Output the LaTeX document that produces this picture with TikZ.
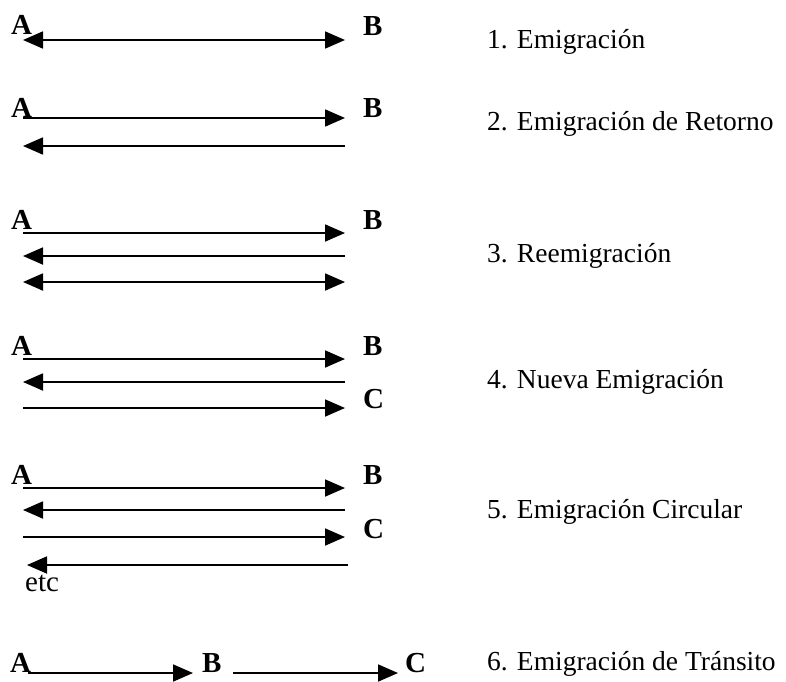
\documentclass[tikz,border=0pt]{standalone}
\usepackage{fontspec}
\setmainfont{Liberation Serif}
\usetikzlibrary{arrows.meta}
\tikzset{
  tipx/.tip={Triangle[length=20pt,width=17pt]},
  fwd/.style={line width=1.8pt,-tipx},
  dbl/.style={line width=1.8pt,tipx-tipx},
  letter/.style={font=\fontsize{29}{29}\selectfont\bfseries,inner sep=0pt,anchor=base west},
  lbl/.style={font=\fontsize{27.5}{28}\selectfont,inner sep=0pt,anchor=base west},
}
\begin{document}
\begin{tikzpicture}[x=1pt,y=-1pt]
\useasboundingbox[fill=white] (0,0) rectangle (786,681);
% row 1
\node[letter] (A1) at (11,34) {A};
\node[letter] (B1) at (363,35) {B};
\coordinate (s1) at (23,40); \coordinate (e1) at (345,40);
\draw[dbl] (s1) -- (e1);
\node[lbl] (L1) at (487,48) {1. Emigración};
% row 2
\node[letter] (A2) at (11,117) {A};
\node[letter] (B2) at (363,117) {B};
\coordinate (s2a) at (23,118); \coordinate (e2a) at (345,118);
\coordinate (s2b) at (345,146); \coordinate (e2b) at (23,146);
\draw[fwd] (s2a) -- (e2a);
\draw[fwd] (s2b) -- (e2b);
\node[lbl] (L2) at (487,130) {2. Emigración de Retorno};
% row 3
\node[letter] (A3) at (11,229) {A};
\node[letter] (B3) at (363,229) {B};
\coordinate (s3a) at (23,233); \coordinate (e3a) at (345,233);
\coordinate (s3b) at (345,256); \coordinate (e3b) at (23,256);
\coordinate (s3c) at (23,282); \coordinate (e3c) at (345,282);
\draw[fwd] (s3a) -- (e3a);
\draw[fwd] (s3b) -- (e3b);
\draw[dbl] (s3c) -- (e3c);
\node[lbl] (L3) at (487,262) {3. Reemigración};
% row 4
\node[letter] (A4) at (11,355) {A};
\node[letter] (B4) at (363,355) {B};
\node[letter] (C4) at (363,408) {C};
\coordinate (s4a) at (23,359); \coordinate (e4a) at (345,359);
\coordinate (s4b) at (345,382); \coordinate (e4b) at (23,382);
\coordinate (s4c) at (23,408); \coordinate (e4c) at (345,408);
\draw[fwd] (s4a) -- (e4a);
\draw[fwd] (s4b) -- (e4b);
\draw[fwd] (s4c) -- (e4c);
\node[lbl] (L4) at (487,388) {4. Nueva Emigración};
% row 5
\node[letter] (A5) at (11,484) {A};
\node[letter] (B5) at (363,484) {B};
\node[letter] (C5) at (363,538) {C};
\coordinate (s5a) at (23,488); \coordinate (e5a) at (345,488);
\coordinate (s5b) at (345,510); \coordinate (e5b) at (23,510);
\coordinate (s5c) at (23,537); \coordinate (e5c) at (345,537);
\coordinate (s5d) at (348,565); \coordinate (e5d) at (27,565);
\draw[fwd] (s5a) -- (e5a);
\draw[fwd] (s5b) -- (e5b);
\draw[fwd] (s5c) -- (e5c);
\draw[fwd] (s5d) -- (e5d);
\node[lbl,font=\fontsize{29}{29}\selectfont] (etc) at (25,591) {etc};
\node[lbl] (L5) at (487,518) {5. Emigración Circular};
% row 6
\node[letter] (A6) at (10,672) {A};
\node[letter] (B6) at (202,672) {B};
\node[letter] (C6) at (405,672) {C};
\coordinate (s6a) at (28,673); \coordinate (e6a) at (193,673);
\coordinate (s6b) at (233,673); \coordinate (e6b) at (398,673);
\draw[fwd] (s6a) -- (e6a);
\draw[fwd] (s6b) -- (e6b);
\node[lbl] (L6) at (487,670) {6. Emigración de Tránsito};
\end{tikzpicture}
\end{document}
